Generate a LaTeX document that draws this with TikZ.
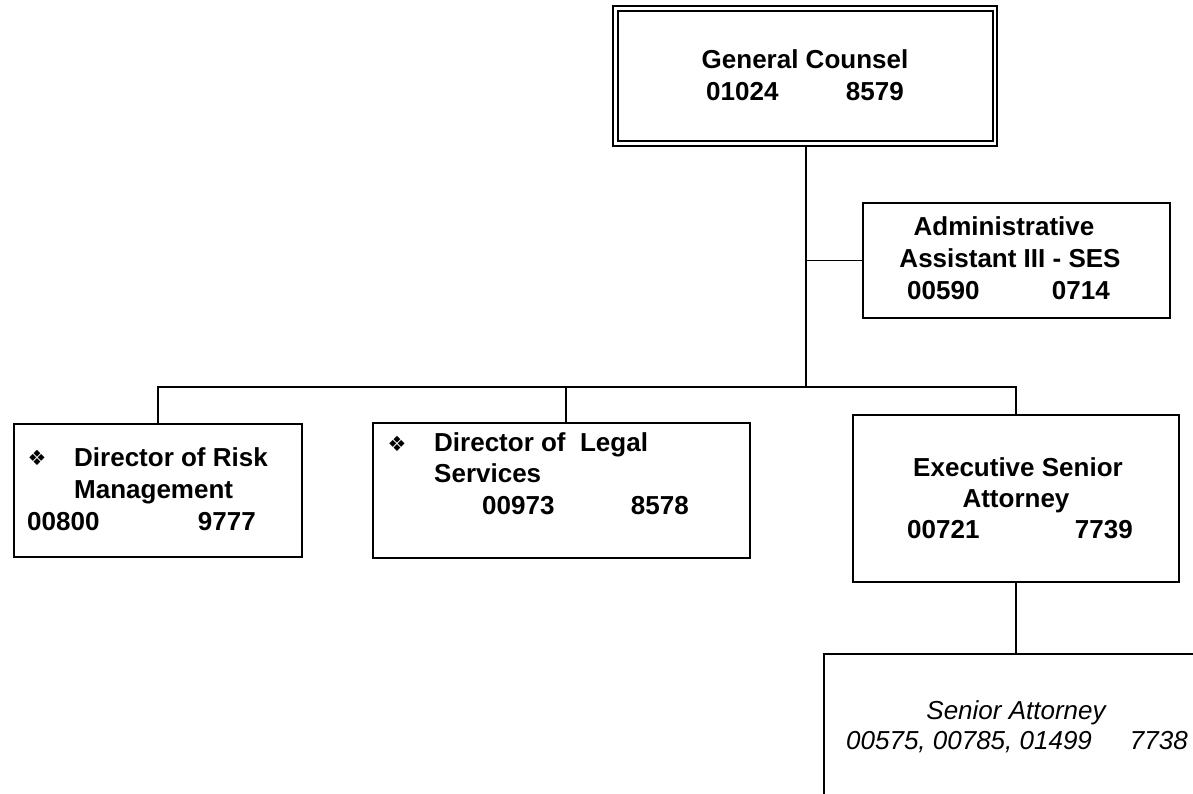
\documentclass[tikz,border=0pt]{standalone}
\usepackage{fontspec}
\setmainfont{Liberation Sans}
\newfontfamily\dingfont{DejaVu Sans}
\begin{document}
\begin{tikzpicture}[x=1pt,y=-1pt,
  box/.style={draw,line width=1.6pt,inner sep=0pt},
  conn/.style={line width=1.6pt},
  lbl/.style={inner sep=0pt,font=\fontsize{26}{31}\selectfont\bfseries},
  ilbl/.style={inner sep=0pt,font=\fontsize{26}{31}\selectfont\itshape},
  bullet/.style={inner sep=0pt,font=\dingfont\fontsize{21}{21}\selectfont}]
\useasboundingbox (0,0) rectangle (1193,794);
\clip (0,0) rectangle (1193,794);
% boxes
\node[box,minimum width=384pt,minimum height=140pt] (gcout) at (805,76) {};
\node[box,line width=2.6pt,minimum width=375pt,minimum height=130pt] (gcin) at (805.5,76) {};
\node[box,minimum width=307pt,minimum height=115pt] (admin) at (1016.5,260.5) {};
\node[box,minimum width=288pt,minimum height=133pt] (risk) at (158,490.5) {};
\node[box,minimum width=377pt,minimum height=135pt] (legal) at (561.5,490.5) {};
\node[box,minimum width=326pt,minimum height=167pt] (exec) at (1016,498.5) {};
\node[box,minimum width=384pt,minimum height=200pt] (senior) at (1016,754) {};
% connectors
\coordinate (j) at (806,387);
\coordinate (bl) at (158,387);
\coordinate (bm) at (566,387);
\coordinate (br) at (1016,387);
\draw[conn] (gcout.south -| j) -- (j);
\draw[conn] (j |- admin.west) -- (admin.west);
\draw[conn] (risk.north) -- (bl) -- (br) -- (exec.north);
\draw[conn] (bm) -- (bm |- legal.north);
\draw[conn] (exec.south) -- (senior.north);
% texts
\node[lbl,anchor=base] (gc1) at (805,69) {General Counsel};
\node[lbl,anchor=base west] (gc2) at (706,101) {01024};
\node[lbl,anchor=base east] (gc3) at (904,101) {8579};
\node[lbl,anchor=base] (ad1) at (1004,236) {Administrative};
\node[lbl,anchor=base] (ad2) at (1010,267) {Assistant III - SES};
\node[lbl,anchor=base west] (ad3) at (907,299) {00590};
\node[lbl,anchor=base east] (ad4) at (1110,299) {0714};
\node[bullet] (rb) at (37,458) {❖};
\node[lbl,anchor=base west] (rk1) at (74,466) {Director of Risk};
\node[lbl,anchor=base west] (rk2) at (74,498) {Management};
\node[lbl,anchor=base west] (rk3) at (27,530) {00800};
\node[lbl,anchor=base east] (rk4) at (256,530) {9777};
\node[bullet] (lb) at (397,444) {❖};
\node[lbl,anchor=base west] (lg1) at (434,451) {Director of\ \ Legal};
\node[lbl,anchor=base west] (lg2) at (434,482) {Services};
\node[lbl,anchor=base west] (lg3) at (482,514) {00973};
\node[lbl,anchor=base east] (lg4) at (689,514) {8578};
\node[lbl,anchor=base] (ex1) at (1018,476) {Executive Senior};
\node[lbl,anchor=base] (ex2) at (1016,507) {Attorney};
\node[lbl,anchor=base west] (ex3) at (907,538) {00721};
\node[lbl,anchor=base east] (ex4) at (1133,538) {7739};
\node[ilbl,anchor=base] (sa1) at (1016,719) {Senior Attorney};
\node[ilbl,anchor=base west] (sa2) at (846,749) {00575, 00785, 01499};
\node[ilbl,anchor=base east] (sa3) at (1188,749) {7738};
\end{tikzpicture}
\end{document}
